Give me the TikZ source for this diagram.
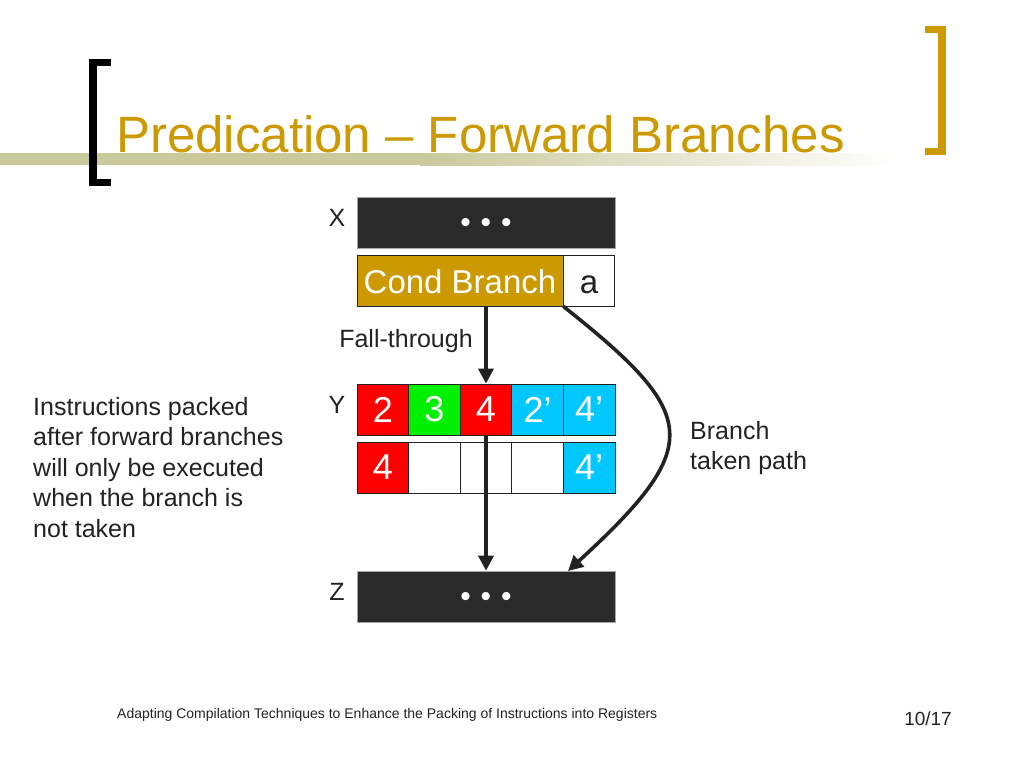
\documentclass[tikz,border=0pt]{standalone}
\usepackage{fontspec}
\setmainfont{Liberation Sans}
\usetikzlibrary{arrows.meta}
\definecolor{gold}{HTML}{CC9900}
\definecolor{khaki}{HTML}{C9C99C}
\definecolor{ink}{HTML}{222222}
\definecolor{slab}{HTML}{2A2A2A}
\definecolor{cellred}{HTML}{FF0000}
\definecolor{cellgreen}{HTML}{00F000}
\definecolor{cellblue}{HTML}{00C8FF}
\newcommand{\slabdots}{\raisebox{-10pt}[0pt][0pt]{\fontsize{30}{30}\selectfont\textbullet\hspace{10pt}\textbullet\hspace{10pt}\textbullet}}
\tikzset{
    cell/.style={draw=ink, line width=0.8pt, minimum width=51.6pt, minimum height=51pt,
        inner sep=0pt, text=white, font=\fontsize{36}{40}\selectfont},
    slabbox/.style={fill=slab, draw=gray!70, line width=0.6pt, minimum width=258pt,
        minimum height=51pt, inner sep=0pt, text=white},
    label/.style={text=ink, font=\fontsize{25}{30.5}\selectfont, inner sep=0pt},
    flow/.style={draw=ink, line width=3.6pt, -{Triangle[length=15pt,width=15pt]}}
}
\begin{document}
\begin{tikzpicture}[x=1pt, y=-1pt]
            \useasboundingbox (0, 0) rectangle (1024, 768);
            % title bar
            \fill[khaki] (0, 153) rectangle (420, 165);
            \shade[left color=khaki, right color=white] (420, 153) rectangle (900, 165);
            \fill[black] (89, 59) rectangle (97, 186);
            \fill[black] (89, 59) rectangle (111, 66);
            \fill[black] (89, 179) rectangle (111, 186);
            \fill[gold] (938, 26) rectangle (946, 155);
            \fill[gold] (925, 26) rectangle (946, 33);
            \fill[gold] (925, 148) rectangle (946, 155);
            \node[anchor=base west, inner sep=0pt, text=gold] (title) at (116, 152) {
                \fontsize{51}{60}\selectfont Predication – Forward Branches
            };
            % blocks
            \node[slabbox] (xbox) at (486, 222.5) {\slabdots};
            \node[cell, fill=gold, minimum width=206pt, font=\fontsize{33}{36}\selectfont] (cond) at (460, 280.5) {
                \raisebox{-13pt}[0pt][0pt]{Cond Branch}
            };
            \node[cell, fill=white, text=ink, font=\fontsize{33}{36}\selectfont] (a) at (589, 280.5) {
                \raisebox{-13pt}[0pt][0pt]{a}
            };
            \node[cell, fill=cellred] (y1) at (382.8, 409.5) {2};
            \node[cell, fill=cellgreen] (y2) at (434.4, 409.5) {3};
            \node[cell, fill=cellred] (y3) at (486, 409.5) {4};
            \node[cell, fill=cellblue] (y4) at (537.6, 409.5) {2’};
            \node[cell, fill=cellblue] (y5) at (589.2, 409.5) {4’};
            \node[cell, fill=cellred] (w1) at (382.8, 467.5) {4};
            \node[cell, fill=white] (w2) at (434.4, 467.5) {};
            \node[cell, fill=white] (w3) at (486, 467.5) {};
            \node[cell, fill=white] (w4) at (537.6, 467.5) {};
            \node[cell, fill=cellblue] (w5) at (589.2, 467.5) {4’};
            \node[slabbox] (zbox) at (486, 596.5) {\slabdots};
            % labels
            \node[label] (lx) at (337, 218) {X};
            \node[label] (ly) at (337, 405) {Y};
            \node[label] (lz) at (337, 592) {Z};
            \node[label] (fall) at (406, 341) {Fall-through};
            \node[label, anchor=north west, align=left] (note) at (33, 397) {
                Instructions packed\\
                after forward branches\\
                will only be executed\\
                when the branch is\\
                not taken
            };
            \node[label, anchor=north west, align=left] (taken) at (690, 421) {
                Branch\\
                taken path
            };
            % connectors
            \coordinate (split) at (cond.south east);
            \coordinate (land) at (568, 571);
            \draw[flow] (cond.south -| y3) -- (y3.north);
            \draw[flow] (y3.south) -- (zbox.north);
            \draw[flow] (split) .. controls (700, 415) and (705, 445) .. (land);
            % footer
            \node[anchor=base west, inner sep=0pt, text=ink] (foot) at (117, 718) {
                \fontsize{14}{16}\selectfont Adapting Compilation Techniques to Enhance the Packing of Instructions into Registers
            };
            \node[anchor=base east, inner sep=0pt, text=ink] (page) at (952, 725) {
                \fontsize{19}{22}\selectfont 10/17
            };
        \end{tikzpicture}
\end{document}
